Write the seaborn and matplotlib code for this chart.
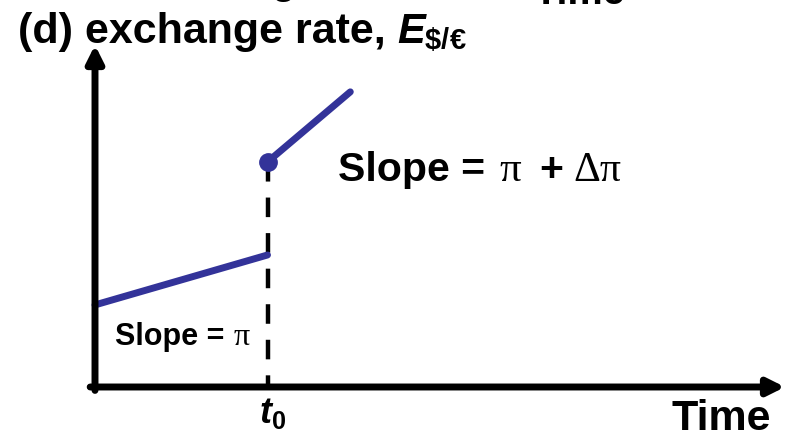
import numpy as np
import pandas as pd
import matplotlib
matplotlib.use("Agg")
import matplotlib.pyplot as plt
import seaborn as sns

# data (abstract units, both axes run 0..10)
t0 = 2.5
before_t = [0.0, 2.5]
before_E = [2.4, 3.86]
after_t = [2.5, 3.7]
after_E = [6.58, 8.63]

blue = "#333399"
sns.set_style("white")
plt.rcParams['font.family'] = ['Liberation Sans', 'DejaVu Sans']
plt.rcParams['font.weight'] = 'bold'
plt.rcParams['text.color'] = 'black'
plt.rcParams['mathtext.fontset'] = 'custom'
plt.rcParams['mathtext.rm'] = 'Liberation Sans:bold'
plt.rcParams['mathtext.bf'] = 'Liberation Sans:bold'
plt.rcParams['mathtext.it'] = 'Liberation Sans:bold:italic'

W, H = 796, 443
fig = plt.figure(figsize=(W / 100, H / 100), dpi=100)
ax = fig.add_axes([95 / W, (H - 387) / H, 690 / W, 342 / H])
ax.set_xlim(0, 10)
ax.set_ylim(0, 10)
ax.axis("off")


def label(xp, yp, s, size, family="Liberation Sans", weight="bold", ha="left"):
    # place text by pixel position (from the top-left), baseline aligned
    fig.text(xp / W, 1 - yp / H, s, fontsize=size, family=family, fontweight=weight,
             ha=ha, va="baseline")


df1 = pd.DataFrame({"t": before_t, "E": before_E})
df2 = pd.DataFrame({"t": after_t, "E": after_E})
sns.lineplot(data=df1, x="t", y="E", color=blue, lw=5, ax=ax, clip_on=False)
sns.lineplot(data=df2, x="t", y="E", color=blue, lw=5, ax=ax, clip_on=False)
ax.plot([t0], [after_E[0]], "o", color=blue, ms=12.5, clip_on=False, zorder=5)

# dashed drop line at t0, dashes start at the dot
ax.plot([t0, t0], [after_E[0], 0], color="black", lw=3.2, dashes=(4.4, 3.6), zorder=1)

# axes with arrows
arrow = dict(arrowstyle="-|>", color="black", lw=5, mutation_scale=25,
             shrinkA=0, shrinkB=0)
ax.annotate("", xy=(10, 0), xytext=(-0.07, 0), arrowprops=arrow, annotation_clip=False)
ax.annotate("", xy=(0, 10), xytext=(0, -0.1), arrowprops=arrow, annotation_clip=False)

# big slope label
label(338, 181, "Slope =", 29.5)
label(499, 181, "π", 31, family="Liberation Serif", weight="normal")
label(539, 181, "+", 29.5)
label(573, 181, "Δπ", 30, family="Liberation Serif", weight="normal")

# small slope label
label(115, 345, "Slope =", 22)
label(234, 345, "π", 23, family="Liberation Serif", weight="normal")

# t0 and Time
label(273, 423, r"$\mathit{t}_{\mathbf{0}}$", 26, ha="center")
label(771, 430, "Time", 31, ha="right")

# title
label(18, 43, "(d) exchange rate,", 31)
label(397, 43, r"$\mathit{E}_{\mathbf{\$/€}}$", 30)

# cut-off text from the panel above
label(533, 4, "Time", 28.5)
label(271, -6, "g", 28)

fig.savefig("out.png", dpi=100)
